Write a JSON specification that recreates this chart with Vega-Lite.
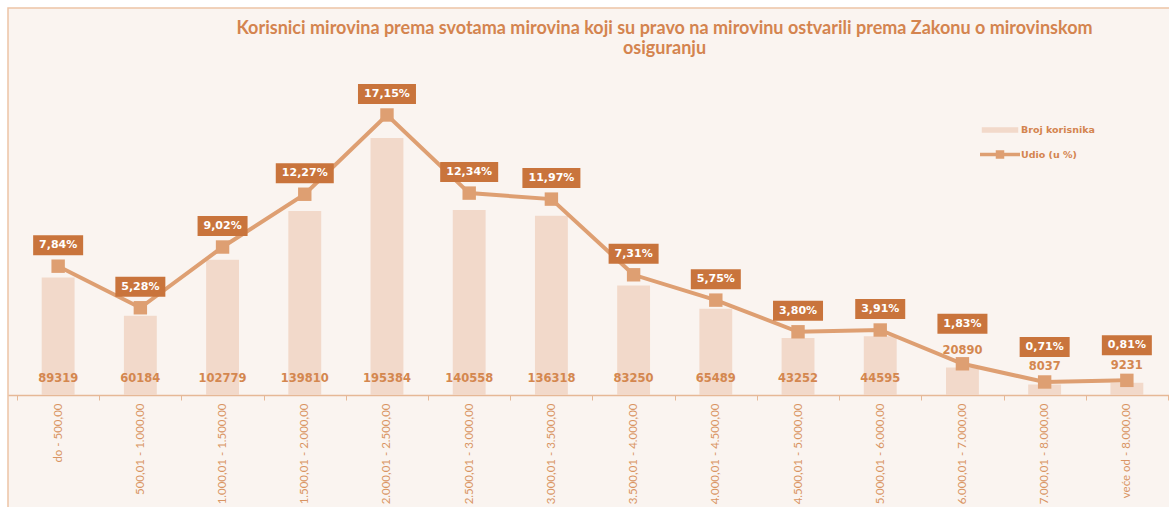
{
  "$schema": "https://vega.github.io/schema/vega-lite/v6.json",
  "width": 1169,
  "height": 505,
  "autosize": {"type": "none"},
  "padding": {"left": 8, "top": 8, "right": 0, "bottom": 0},
  "background": "#FFFFFF",
  "config": {
    "locale": {"number": {"decimal": ",", "thousands": ".", "grouping": [3], "currency": ["", " €"]}},
    "view": {"fill": "#FAF4F0", "stroke": "#EDC3A5", "strokeWidth": 1.5}
  },
  "title": {
    "text": ["Korisnici mirovina prema svotama mirovina koji su pravo na mirovinu ostvarili prema Zakonu o mirovinskom", "osiguranju"],
    "font": "Lato",
    "fontSize": 18,
    "fontWeight": "bold",
    "color": "#D4844F",
    "anchor": "middle",
    "frame": "group",
    "dx": 72,
    "offset": -68,
    "baseline": "bottom",
    "lineHeight": 20
  },
  "data": {
    "values": [
      {"raspon": "do - 500,00", "korisnici": 89319, "udio": 0.0784},
      {"raspon": "500,01 - 1.000,00", "korisnici": 60184, "udio": 0.0528},
      {"raspon": "1.000,01 - 1.500,00", "korisnici": 102779, "udio": 0.0902},
      {"raspon": "1.500,01 - 2.000,00", "korisnici": 139810, "udio": 0.1227},
      {"raspon": "2.000,01 - 2.500,00", "korisnici": 195384, "udio": 0.1715},
      {"raspon": "2.500,01 - 3.000,00", "korisnici": 140558, "udio": 0.1234},
      {"raspon": "3.000,01 - 3.500,00", "korisnici": 136318, "udio": 0.1197},
      {"raspon": "3.500,01 - 4.000,00", "korisnici": 83250, "udio": 0.0731},
      {"raspon": "4.000,01 - 4.500,00", "korisnici": 65489, "udio": 0.0575},
      {"raspon": "4.500,01 - 5.000,00", "korisnici": 43252, "udio": 0.038},
      {"raspon": "5.000,01 - 6.000,00", "korisnici": 44595, "udio": 0.0391},
      {"raspon": "6.000,01 - 7.000,00", "korisnici": 20890, "udio": 0.0183},
      {"raspon": "7.000,01 - 8.000,00", "korisnici": 8037, "udio": 0.0071},
      {"raspon": "veće od - 8.000,00", "korisnici": 9231, "udio": 0.0081}
    ]
  },
  "encoding": {
    "x": {
      "field": "raspon",
      "type": "nominal",
      "sort": null,
      "scale": {"paddingInner": 0, "paddingOuter": 0.11},
      "axis": {
        "title": null,
        "orient": "bottom",
        "offset": -118,
        "labelAngle": -90,
        "labelAlign": "right",
        "labelBaseline": "middle",
        "labelFont": "Lato",
        "labelFontSize": 11.5,
        "labelColor": "#D99463",
        "labelPadding": 3,
        "labelLimit": 0,
        "tickSize": 5,
        "tickColor": "#E6B896",
        "tickWidth": 1,
        "tickBand": "extent",
        "domainColor": "#E6B896",
        "domainWidth": 1.5,
        "grid": false
      }
    }
  },
  "layer": [
    {
      "layer": [
        {
          "mark": {"type": "bar", "width": {"band": 0.4}},
          "encoding": {
            "y": {"field": "korisnici", "type": "quantitative", "scale": {"domain": [-89680, 294120], "nice": false, "zero": false}, "axis": null},
            "color": {
              "datum": "Broj korisnika",
              "type": "nominal",
              "scale": {"domain": ["Broj korisnika", "Udio (u %)"], "range": ["#F2D9CA", "#DE9F72"]},
              "legend": {
                "orient": "none",
                "legendX": 980,
                "legendY": 110,
                "title": null,
                "padding": 0,
                "symbolSize": 400,
                "labelOffset": 9,
                "rowPadding": 4.6,
                "labelFont": "DejaVu Sans",
                "labelFontWeight": "bold",
                "labelFontSize": 9.5,
                "labelColor": "#D4844F",
                "symbolStrokeWidth": 3.5,
                "encode": {
                  "symbols": {
                    "update": {
                      "shape": {"signal": "datum.value === 'Udio (u %)' ? 'M-2,0H2M-0.25,-0.25H0.25V0.25H-0.25Z' : 'M-1.65,-0.1H1.65V0.1H-1.65Z'"},
                      "fill": {"scale": "color", "field": "value"},
                      "stroke": {"scale": "color", "field": "value"},
                      "strokeWidth": {"value": 3.5},
                      "opacity": {"value": 1}
                    }
                  }
                }
              }
            }
          }
        },
        {
          "transform": [{"filter": "datum.korisnici >= 40000"}],
          "mark": {"type": "text", "dy": -16, "baseline": "middle", "align": "center", "font": "DejaVu Sans", "fontWeight": "bold", "fontSize": 11.5, "color": "#D4874F"},
          "encoding": {
            "y": {"datum": 0, "type": "quantitative"},
            "text": {"field": "korisnici", "type": "quantitative", "format": "d"}
          }
        },
        {
          "transform": [{"filter": "datum.korisnici < 40000"}],
          "mark": {"type": "text", "dy": -17, "baseline": "middle", "align": "center", "font": "DejaVu Sans", "fontWeight": "bold", "fontSize": 11.5, "color": "#D4874F"},
          "encoding": {
            "y": {"field": "korisnici", "type": "quantitative"},
            "text": {"field": "korisnici", "type": "quantitative", "format": "d"}
          }
        }
      ]
    },
    {
      "layer": [
        {
          "mark": {"type": "line", "strokeWidth": 4, "point": {"shape": "square", "size": 180, "filled": true, "opacity": 1}},
          "encoding": {
            "y": {"field": "udio", "type": "quantitative", "scale": {"domain": [-0.07358, 0.23738], "nice": false, "zero": false}, "axis": null},
            "color": {"datum": "Udio (u %)", "type": "nominal"}
          }
        },
        {
          "transform": [{"filter": "datum.udio >= 0.03 && datum.udio < 0.1"}],
          "mark": {"type": "point", "shape": "M-1,-0.4H1V0.4H-1Z", "size": 2500, "filled": true, "color": "#C9743C", "opacity": 1, "yOffset": -21},
          "encoding": {"y": {"field": "udio", "type": "quantitative"}}
        },
        {
          "transform": [{"filter": "datum.udio >= 0.1"}],
          "mark": {"type": "point", "shape": "M-1,-0.345H1V0.345H-1Z", "size": 3364, "filled": true, "color": "#C9743C", "opacity": 1, "yOffset": -21},
          "encoding": {"y": {"field": "udio", "type": "quantitative"}}
        },
        {
          "transform": [{"filter": "datum.udio >= 0.03"}],
          "mark": {"type": "text", "dy": -21, "baseline": "middle", "align": "center", "font": "DejaVu Sans", "fontWeight": "bold", "fontSize": 11, "color": "#FFFFFF"},
          "encoding": {
            "y": {"field": "udio", "type": "quantitative"},
            "text": {"field": "udio", "type": "quantitative", "format": ".2%"}
          }
        },
        {
          "transform": [{"filter": "datum.udio >= 0.01 && datum.udio < 0.03"}],
          "mark": {"type": "point", "shape": "M-1,-0.4H1V0.4H-1Z", "size": 2500, "filled": true, "color": "#C9743C", "opacity": 1, "yOffset": -40},
          "encoding": {"y": {"field": "udio", "type": "quantitative"}}
        },
        {
          "transform": [{"filter": "datum.udio >= 0.01 && datum.udio < 0.03"}],
          "mark": {"type": "text", "dy": -40, "baseline": "middle", "align": "center", "font": "DejaVu Sans", "fontWeight": "bold", "fontSize": 11, "color": "#FFFFFF"},
          "encoding": {
            "y": {"field": "udio", "type": "quantitative"},
            "text": {"field": "udio", "type": "quantitative", "format": ".2%"}
          }
        },
        {
          "transform": [{"filter": "datum.udio < 0.01"}],
          "mark": {"type": "point", "shape": "M-1,-0.4H1V0.4H-1Z", "size": 2500, "filled": true, "color": "#C9743C", "opacity": 1, "yOffset": -35},
          "encoding": {"y": {"field": "udio", "type": "quantitative"}}
        },
        {
          "transform": [{"filter": "datum.udio < 0.01"}],
          "mark": {"type": "text", "dy": -35, "baseline": "middle", "align": "center", "font": "DejaVu Sans", "fontWeight": "bold", "fontSize": 11, "color": "#FFFFFF"},
          "encoding": {
            "y": {"field": "udio", "type": "quantitative"},
            "text": {"field": "udio", "type": "quantitative", "format": ".2%"}
          }
        }
      ]
    }
  ],
  "resolve": {"scale": {"y": "independent"}}
}
